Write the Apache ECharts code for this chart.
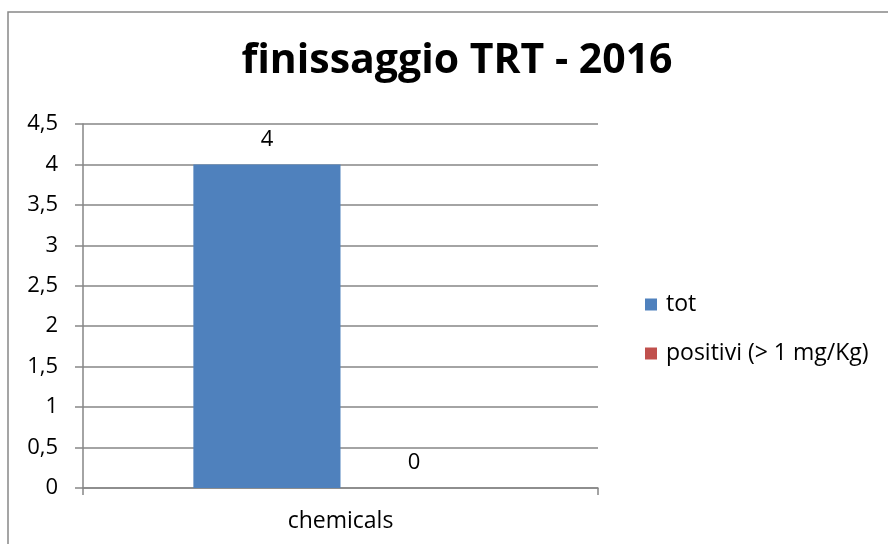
<!DOCTYPE html>
<html><head><meta charset="utf-8">
<script src="https://cdn.jsdelivr.net/npm/echarts@6/dist/echarts.min.js"></script>
<style>html,body{margin:0;padding:0;background:#fff}#c{width:888px;height:544px}</style>
</head><body><div id="c"></div>
<script>
const categories = ['chemicals'];
const seriesNames = ['tot', 'positivi (> 1 mg/Kg)'];
const totValues = [4];
const positiviValues = [0];
const seriesColors = ['#4F81BD', '#C0504D'];
const titleText = 'finissaggio TRT - 2016';

const FONT = '"Open Sans", sans-serif';
const chart = echarts.init(document.getElementById('c'), null, {renderer: 'canvas'});
const fmt = v => String(v).replace('.', ',');
const lbl = {show: true, position: 'top', distance: 14, fontSize: 22, color: '#000', fontFamily: FONT, formatter: p => fmt(p.value)};
chart.setOption({
  animation: false,
  backgroundColor: '#fff',
  graphic: [{type: 'rect', shape: {x: 8, y: 12, width: 900, height: 600}, style: {fill: 'none', stroke: '#888', lineWidth: 1.5}, z: -10}],
  title: {text: titleText, left: 452, top: 36, textAlign: 'center',
    textStyle: {fontFamily: FONT, fontWeight: 'bold', fontSize: 41, color: '#000'}},
  legend: {orient: 'vertical', left: 640, top: 288, itemWidth: 12, itemHeight: 12, itemGap: 26,
    icon: 'rect', textStyle: {fontFamily: FONT, fontSize: 23, color: '#000', padding: [0,0,0,4]},
    data: seriesNames},
  grid: {left: 83, right: 290, top: 124, bottom: 56, containLabel: false},
  xAxis: {type: 'category', data: categories,
    axisLine: {lineStyle: {color: '#868686', width: 1.5}},
    axisTick: {show: true, length: 7, lineStyle: {color: '#868686', width: 1.5}},
    axisLabel: {fontFamily: FONT, fontSize: 23, color: '#000', margin: 22}},
  yAxis: {type: 'value', min: 0, max: 4.5, interval: 0.5,
    axisLine: {show: true, lineStyle: {color: '#868686', width: 1.5}},
    axisTick: {show: true, length: 8, lineStyle: {color: '#868686', width: 1.5}},
    splitLine: {lineStyle: {color: '#868686', width: 1.5}},
    axisLabel: {fontFamily: FONT, fontSize: 22, color: '#000', margin: 25, formatter: v => fmt(v)}},
  series: [
    {name: seriesNames[0], type: 'bar', data: totValues, barGap: '0%', barCategoryGap: '42.86%',
      itemStyle: {color: seriesColors[0]}, label: lbl},
    {name: seriesNames[1], type: 'bar', data: positiviValues,
      itemStyle: {color: seriesColors[1]}, label: lbl}
  ]
});
</script></body></html>
